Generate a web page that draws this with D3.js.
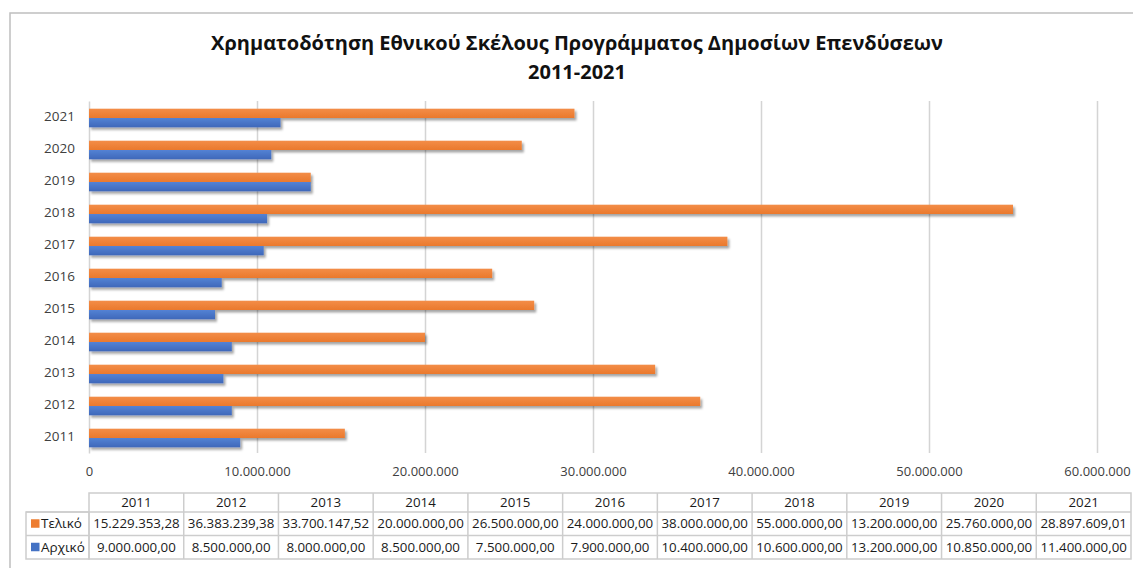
<!DOCTYPE html>
<html lang="el">
<head>
  <meta charset="UTF-8">
  <title>Χρηματοδότηση Εθνικού Σκέλους ΠΔΕ 2011-2021</title>
  <script src="https://d3js.org/d3.v7.min.js"></script>
  <style>
    body { margin: 0; background: #fff; }
    text { font-family: "Open Sans", "Noto Sans", sans-serif; }
  </style>
</head>
<body>
<svg width="1133" height="568"></svg>
<script>
  // data
  var years = ['2011', '2012', '2013', '2014', '2015', '2016', '2017', '2018', '2019', '2020', '2021'];
  var telikoValues = [15229353.28, 36383239.38, 33700147.52, 20000000, 26500000, 24000000, 38000000, 55000000, 13200000, 25760000, 28897609.01];
  var archikoValues = [9000000, 8500000, 8000000, 8500000, 7500000, 7900000, 10400000, 10600000, 13200000, 10850000, 11400000];
  var seriesNames = ['Τελικό', 'Αρχικό'];
  var xTicks = [0, 10000000, 20000000, 30000000, 40000000, 50000000, 60000000];

  var colors = {'Τελικό': '#ED7D31', 'Αρχικό': '#4472C4'};
  var series = {'Τελικό': telikoValues, 'Αρχικό': archikoValues};

  var locale = d3.formatLocale({decimal: ',', thousands: '.', grouping: [3], currency: ['', '€']});
  var fmtAxis = locale.format(',.0f');
  var fmtTable = locale.format(',.2f');

  var svg = d3.select('svg');
  var margin = {top: 101, left: 89, right: 36, bottom: 115};
  var width = 1133 - margin.left - margin.right;   // 1008
  var height = 568 - margin.top - margin.bottom;   // 352

  // chart frame
  svg.append('rect')
    .attr('x', 10).attr('y', 13)
    .attr('width', 1140).attr('height', 570)
    .attr('fill', '#fff')
    .attr('stroke', '#bfbfbf')
    .attr('stroke-width', 1.5);

  var defs = svg.append('defs');
  defs.append('filter')
    .attr('id', 'shadow')
    .attr('x', '-5%').attr('y', '-50%').attr('width', '110%').attr('height', '220%')
    .append('feDropShadow')
    .attr('dx', 2).attr('dy', 2.5)
    .attr('stdDeviation', 1.3)
    .attr('flood-color', '#000')
    .attr('flood-opacity', 0.35);

  var gradStops = {'Τελικό': ['#F38D48', '#EA792C'], 'Αρχικό': ['#5482D4', '#3E68BA']};
  seriesNames.forEach(function (name, i) {
    var grad = defs.append('linearGradient')
      .attr('id', 'grad' + i)
      .attr('x1', 0).attr('y1', 0).attr('x2', 0).attr('y2', 1);
    grad.append('stop').attr('offset', '0%').attr('stop-color', gradStops[name][0]);
    grad.append('stop').attr('offset', '100%').attr('stop-color', gradStops[name][1]);
  });

  // title
  var title = svg.append('text')
    .attr('x', 577)
    .attr('text-anchor', 'middle')
    .attr('font-weight', 'bold')
    .attr('font-size', 20)
    .attr('fill', '#111');
  title.append('tspan').attr('x', 577).attr('y', 50)
    .text('Χρηματοδότηση Εθνικού Σκέλους Προγράμματος Δημοσίων Επενδύσεων');
  title.append('tspan').attr('x', 577).attr('y', 79)
    .text('2011-2021');

  var g = svg.append('g')
    .attr('transform', 'translate(' + margin.left + ',' + margin.top + ')');

  var x = d3.scaleLinear()
    .domain([0, 60000000])
    .range([0, width]);

  var y = d3.scaleBand()
    .domain(years.slice().reverse())
    .range([0, height]);

  // bars sit a touch below the band centre, as in the reference
  var ySub = d3.scaleBand()
    .domain(seriesNames)
    .range([1, y.bandwidth() + 1])
    .paddingInner(0)
    .paddingOuter(0.72);

  // gridlines
  g.append('g')
    .attr('class', 'grid')
    .call(d3.axisBottom(x).tickValues(xTicks.slice(1)).tickSize(height).tickFormat(''))
    .call(function (sel) {
      sel.select('.domain').remove();
      sel.selectAll('line').attr('stroke', '#d4d4d4').attr('stroke-width', 1.5);
    });

  // value axis labels
  g.append('g')
    .attr('transform', 'translate(0,' + height + ')')
    .call(d3.axisBottom(x).tickValues(xTicks).tickSize(0).tickPadding(14).tickFormat(fmtAxis))
    .call(function (sel) {
      sel.select('.domain').remove();
      sel.selectAll('text')
        .attr('font-size', 13)
        .attr('fill', '#404040')
        .style('font-family', '"Open Sans", sans-serif');
    });

  // category axis
  g.append('g')
    .call(d3.axisLeft(y).tickSize(0).tickPadding(14))
    .call(function (sel) {
      sel.select('.domain').attr('stroke', '#d4d4d4').attr('stroke-width', 1.5);
      sel.selectAll('text')
        .attr('font-size', 13.5)
        .attr('fill', '#404040')
        .style('font-family', '"Open Sans", sans-serif');
    });

  // bars
  seriesNames.forEach(function (name, i) {
    g.append('g')
      .selectAll('rect')
      .data(series[name])
      .join('rect')
      .attr('x', x(0))
      .attr('y', function (d, j) { return y(years[j]) + ySub(name); })
      .attr('width', function (d) { return x(d) - x(0); })
      .attr('height', ySub.bandwidth())
      .attr('fill', 'url(#grad' + i + ')')
      .attr('filter', 'url(#shadow)');
  });

  // data table
  var tableTop = 493;
  var headerH = 19;
  var rowH = 23.5;
  var colX = d3.scaleBand()
    .domain(years)
    .range([margin.left, 1131]);
  var legendLeft = 26;
  var tableStroke = '#cdcdcd';

  var table = svg.append('g');

  // grid of the table
  table.append('rect')
    .attr('x', margin.left).attr('y', tableTop)
    .attr('width', colX.range()[1] - margin.left)
    .attr('height', headerH + 2 * rowH)
    .attr('fill', 'none').attr('stroke', tableStroke).attr('stroke-width', 1.5);
  table.append('rect')
    .attr('x', legendLeft).attr('y', tableTop + headerH)
    .attr('width', margin.left - legendLeft)
    .attr('height', 2 * rowH)
    .attr('fill', 'none').attr('stroke', tableStroke).attr('stroke-width', 1.5);
  [tableTop + headerH, tableTop + headerH + rowH].forEach(function (yy) {
    table.append('line')
      .attr('x1', legendLeft).attr('x2', colX.range()[1])
      .attr('y1', yy).attr('y2', yy)
      .attr('stroke', tableStroke).attr('stroke-width', 1.5);
  });
  table.selectAll('line.col')
    .data(years.slice(1))
    .join('line')
    .attr('class', 'col')
    .attr('x1', function (d) { return colX(d); })
    .attr('x2', function (d) { return colX(d); })
    .attr('y1', tableTop).attr('y2', tableTop + headerH + 2 * rowH)
    .attr('stroke', tableStroke).attr('stroke-width', 1.5);

  // header labels
  table.selectAll('text.head')
    .data(years)
    .join('text')
    .attr('class', 'head')
    .attr('x', function (d) { return colX(d) + colX.bandwidth() / 2; })
    .attr('y', tableTop + headerH / 2)
    .attr('dy', '0.35em')
    .attr('text-anchor', 'middle')
    .attr('font-size', 13.3)
    .attr('fill', '#1a1a1a')
    .text(function (d) { return d; });

  // rows
  seriesNames.forEach(function (name, i) {
    var rowMid = tableTop + headerH + rowH * i + rowH / 2;
    table.append('rect')
      .attr('x', 31).attr('y', rowMid - 4.5)
      .attr('width', 8.5).attr('height', 8.5)
      .attr('fill', colors[name]);
    table.append('text')
      .attr('x', 41).attr('y', rowMid)
      .attr('dy', '0.35em')
      .attr('font-size', 13.5)
      .attr('fill', '#1a1a1a')
      .text(name);
    table.append('g')
      .selectAll('text')
      .data(series[name])
      .join('text')
      .attr('x', function (d, j) { return colX(years[j]) + colX.bandwidth() / 2; })
      .attr('y', rowMid)
      .attr('dy', '0.35em')
      .attr('text-anchor', 'middle')
      .attr('font-size', 13.3)
      .attr('fill', '#1a1a1a')
      .text(function (d) { return fmtTable(d); });
  });
</script>
</body>
</html>
